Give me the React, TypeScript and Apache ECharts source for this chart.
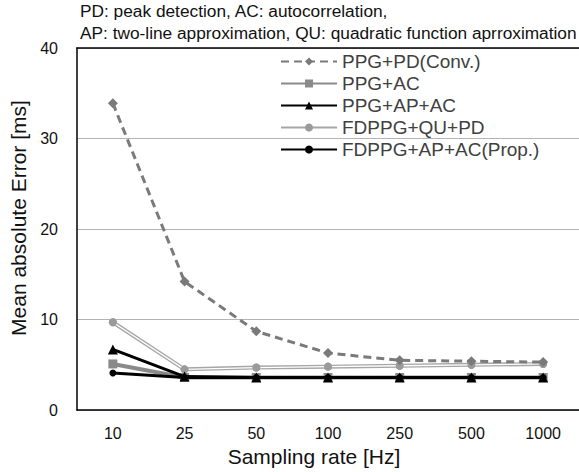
import React, { useEffect, useRef } from "react";
import * as echarts from "echarts";

const categories = ["10", "25", "50", "100", "250", "500", "1000"];
const ppgPd = [33.9, 14.2, 8.7, 6.3, 5.5, 5.4, 5.3];
const ppgAc = [5.1, 3.6, 3.6, 3.6, 3.6, 3.6, 3.6];
const ppgApAc = [6.7, 3.7, 3.6, 3.6, 3.6, 3.6, 3.6];
const fdQuPd = [9.7, 4.5, 4.7, 4.8, 4.9, 5.0, 5.1];
const fdApAc = [4.1, 3.6, 3.6, 3.6, 3.6, 3.6, 3.6];
const yTicks = [0, 10, 20, 30, 40];

const FONT = "'Liberation Sans', Arial, sans-serif";
const TXT = "#111";

export default function App() {
  const ref = useRef<HTMLDivElement>(null);
  useEffect(() => {
    const chart = echarts.init(ref.current!, null, { renderer: "svg" });
    chart.setOption({
      animation: false,
      textStyle: { fontFamily: FONT },
      graphic: [
        {
          type: "text",
          left: 80,
          top: 0,
          style: {
            text: "PD: peak detection, AC: autocorrelation,\nAP: two-line approximation, QU: quadratic function aprroximation",
            font: `17.3px ${FONT}`,
            fill: TXT,
            lineHeight: 22,
          },
        },
      ],
      legend: {
        data: ["PPG+PD(Conv.)", "PPG+AC", "PPG+AP+AC", "FDPPG+QU+PD", "FDPPG+AP+AC(Prop.)"],
        orient: "vertical",
        left: 280,
        top: 52,
        padding: 0,
        itemWidth: 56,
        itemHeight: 10,
        itemGap: 3,
        textStyle: { fontSize: 19, color: "#404040", fontFamily: FONT, lineHeight: 19 },
      },
      grid: { left: 77, right: -2, top: 48, bottom: 61 },
      xAxis: [
        {
          type: "category",
          data: categories,
          boundaryGap: true,
          name: "Sampling rate [Hz]",
          nameLocation: "middle",
          nameGap: 34,
          nameTextStyle: { fontSize: 21, color: TXT, fontFamily: FONT, padding: [0, 28, 0, 0] },
          axisLine: { lineStyle: { color: "#000", width: 1.5 } },
          axisTick: { show: false },
          axisLabel: { fontSize: 16, color: TXT, margin: 15, fontFamily: FONT },
        },
        {
          type: "category",
          data: categories,
          position: "top",
          axisLine: { lineStyle: { color: "#000", width: 1.5 } },
          axisTick: { show: false },
          axisLabel: { show: false },
        },
      ],
      yAxis: {
        type: "value",
        min: yTicks[0],
        max: yTicks[yTicks.length - 1],
        interval: 10,
        name: "Mean absolute Error [ms]",
        nameLocation: "middle",
        nameGap: 45,
        nameTextStyle: { fontSize: 21, color: TXT, fontFamily: FONT, padding: [0, 0, 0, 22] },
        axisLine: { show: true, lineStyle: { color: "#000", width: 1.5 } },
        axisTick: { show: false },
        axisLabel: { fontSize: 16, color: TXT, margin: 19, fontFamily: FONT },
        splitLine: { lineStyle: { color: "#b4b4b4", width: 1 } },
      },
      series: [
        {
          name: "PPG+PD(Conv.)",
          type: "line",
          data: ppgPd,
          symbol: "diamond",
          symbolSize: 10,
          itemStyle: { color: "#7a7a7a" },
          lineStyle: { color: "#7a7a7a", width: 3, type: [8, 5] },
          z: 3,
        },
        {
          name: "PPG+AC",
          type: "line",
          data: ppgAc,
          symbol: "rect",
          symbolSize: 9,
          itemStyle: { color: "#8a8a8a" },
          lineStyle: { color: "#8a8a8a", width: 4 },
          z: 2,
        },
        {
          name: "PPG+AP+AC",
          type: "line",
          data: ppgApAc,
          symbol: "triangle",
          symbolSize: 10,
          itemStyle: { color: "#000" },
          lineStyle: { color: "#000", width: 3 },
          z: 4,
        },
        {
          name: "FDPPG+QU+PD",
          type: "line",
          data: fdQuPd,
          symbol: "circle",
          symbolSize: 8,
          itemStyle: { color: "#9a9a9a" },
          lineStyle: { color: "#a6a6a6", width: 4 },
          z: 2,
        },
        {
          name: "_qu_inner",
          type: "line",
          data: fdQuPd,
          symbol: "none",
          silent: true,
          lineStyle: { color: "#ffffff", width: 1.3 },
          z: 2.5,
        },
        {
          name: "_qu_marks",
          type: "line",
          data: fdQuPd,
          symbol: "circle",
          symbolSize: 8,
          silent: true,
          itemStyle: { color: "#9a9a9a" },
          lineStyle: { width: 0, opacity: 0 },
          z: 2.6,
        },
        {
          name: "FDPPG+AP+AC(Prop.)",
          type: "line",
          data: fdApAc,
          symbol: "circle",
          symbolSize: 7,
          itemStyle: { color: "#000" },
          lineStyle: { color: "#000", width: 3 },
          z: 5,
        },
      ],
    });
    return () => chart.dispose();
  }, []);
  return <div ref={ref} style={{ width: 579, height: 472, position: "absolute", left: 0, top: 0 }} />;
}
